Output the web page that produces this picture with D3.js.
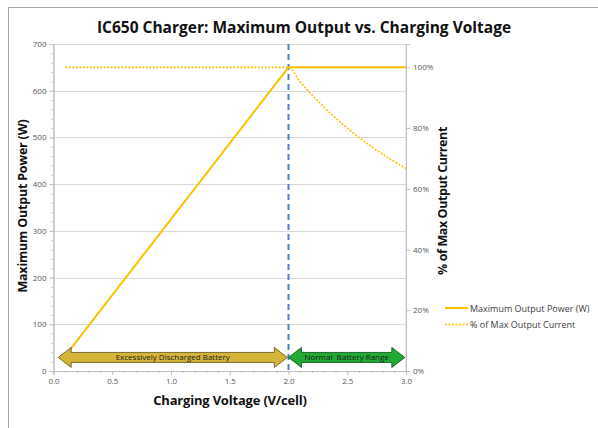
<html lang="en">
<head>
    <meta charset="UTF-8"/>
    <title>IC650 Charger</title>
    <style>
        body { margin: 0; background: #fff; }
        svg { display: block; }
        text { font-family: "Open Sans", sans-serif; }
        .tick text { font-size: 8px; fill: #595959; }
        .bold { font-weight: 700; fill: #111; }
    </style>
</head>
<body>
<svg width="598" height="428"></svg>
<script src="https://d3js.org/d3.v7.min.js"></script>
<script>
    // power curve (V/cell -> W)
    const powerV = [0.1, 2.0, 3.0];
    const powerW = [32.5, 650, 650];

    // % of max output current
    const currentV = [0.1, 2.0, 2.1, 2.2, 2.3, 2.4, 2.5, 2.6, 2.7, 2.8, 2.9, 3.0];
    const currentPct = [100, 100, 95.2, 90.9, 87.0, 83.3, 80.0, 76.9, 74.1, 71.4, 69.0, 66.7];

    const xTicks = [0, 0.5, 1.0, 1.5, 2.0, 2.5, 3.0];
    const yTicks = [0, 100, 200, 300, 400, 500, 600, 700];
    const yRightTicks = [0, 20, 40, 60, 80, 100];

    const ranges = [
        {label: "Excessively Discharged Battery", from: 0.04, to: 1.99, fill: "#d4b53a", stroke: "#5e4f14"},
        {label: "Normal  Battery Range", from: 2.0, to: 2.99, fill: "#22ab34", stroke: "#0b4a12"}
    ];
    const rangeCenterW = 29;
    const switchV = 2.0;

    const legendItems = [
        {label: "Maximum Output Power (W)", dash: null},
        {label: "% of Max Output Current", dash: "2,1.5"}
    ];

    const gold = "#ffc000";

    const svg = d3.select("svg");
    const x = d3.scaleLinear().domain([0, 3]).range([53.5, 406]);
    const y = d3.scaleLinear().domain([0, 700]).range([371, 44]);
    const yR = d3.scaleLinear().domain([0, 700 / 650 * 100]).range([371, 44]);

    // frame
    svg.append("path").attr("d", "M8.5,440 V7.5 H610")
        .attr("fill", "none").attr("stroke", "#a6a6a6");

    // gridlines
    svg.append("g").selectAll("line").data(yTicks.slice(1)).join("line")
        .attr("x1", x(0)).attr("x2", x(3))
        .attr("y1", d => Math.round(y(d)) + 0.5).attr("y2", d => Math.round(y(d)) + 0.5)
        .attr("stroke", "#d9d9d9");
    svg.append("line").attr("x1", x(3)).attr("x2", x(3)).attr("y1", y(700)).attr("y2", y(0))
        .attr("stroke", "#d9d9d9");

    // left axis
    svg.append("g").attr("transform", `translate(${x(0)},0)`)
        .call(d3.axisLeft(y).tickValues(yTicks).tickSize(4).tickPadding(3).tickFormat(d3.format("d")));
    svg.append("g").attr("transform", `translate(${x(0)},0)`)
        .call(d3.axisLeft(y).tickValues(d3.range(0, 701, 20)).tickSize(2).tickFormat(""));

    // bottom axis
    svg.append("g").attr("transform", `translate(0,${y(0)})`)
        .call(d3.axisBottom(x).tickValues(xTicks).tickSize(4).tickPadding(3).tickFormat(d3.format(".1f")));
    svg.append("g").attr("transform", `translate(0,${y(0)})`)
        .call(d3.axisBottom(x).tickValues(d3.range(0, 31).map(i => i / 10)).tickSize(2).tickFormat(""));

    // right axis
    svg.append("g").attr("transform", `translate(${x(3)},0)`)
        .call(d3.axisRight(yR).tickValues(yRightTicks).tickSize(4).tickPadding(3).tickFormat(d => d + "%"));

    svg.selectAll(".domain").attr("stroke", "#bfbfbf");
    svg.selectAll(".tick line").attr("stroke", "#bfbfbf");

    // switch line
    svg.append("line")
        .attr("x1", x(switchV)).attr("x2", x(switchV))
        .attr("y1", y(700)).attr("y2", y(0))
        .attr("stroke", "#4a7ec9").attr("stroke-width", 2).attr("stroke-dasharray", "6,4");

    // current (dotted)
    svg.append("path")
        .datum(currentV.map((v, i) => [v, currentPct[i]]))
        .attr("fill", "none").attr("stroke", gold).attr("stroke-width", 1.6)
        .attr("stroke-dasharray", "2,1.5")
        .attr("d", d3.line().x(d => x(d[0])).y(d => yR(d[1])).curve(d3.curveMonotoneX));

    // power (solid)
    svg.append("path")
        .datum(powerV.map((v, i) => [v, powerW[i]]))
        .attr("fill", "none").attr("stroke", gold).attr("stroke-width", 2)
        .attr("d", d3.line().x(d => x(d[0])).y(d => y(d[1])));

    // range arrows
    const cy = y(rangeCenterW);
    const headLen = 13, headH = 10, shaftH = 5;
    const arrows = svg.append("g").selectAll("g").data(ranges).join("g");
    arrows.append("path")
        .attr("d", d => {
            const a = x(d.from), b = x(d.to);
            return `M${a},${cy} L${a + headLen},${cy - headH} V${cy - shaftH} H${b - headLen} V${cy - headH}`
                + ` L${b},${cy} L${b - headLen},${cy + headH} V${cy + shaftH} H${a + headLen} V${cy + headH} Z`;
        })
        .attr("fill", d => d.fill).attr("stroke", d => d.stroke).attr("stroke-width", 0.8);
    arrows.append("text")
        .attr("x", d => (x(d.from) + x(d.to)) / 2).attr("y", cy + 3)
        .attr("text-anchor", "middle").style("white-space", "pre")
        .attr("font-size", 8).attr("fill", "#1a1a1a")
        .text(d => d.label);

    // title and axis labels
    svg.append("text").attr("class", "bold").attr("x", 304).attr("y", 33)
        .attr("text-anchor", "middle").attr("font-size", 15.5)
        .text("IC650 Charger: Maximum Output vs. Charging Voltage");
    svg.append("text").attr("class", "bold").attr("x", 230).attr("y", 405)
        .attr("text-anchor", "middle").attr("font-size", 13).attr("letter-spacing", -0.2)
        .text("Charging Voltage (V/cell)");
    svg.append("text").attr("class", "bold")
        .attr("transform", "translate(27,206) rotate(-90)")
        .attr("text-anchor", "middle").attr("font-size", 12.5).attr("letter-spacing", -0.2)
        .text("Maximum Output Power (W)");
    svg.append("text").attr("class", "bold")
        .attr("transform", "translate(447,201) rotate(-90)")
        .attr("text-anchor", "middle").attr("font-size", 12.5).attr("letter-spacing", -0.4)
        .text("% of Max Output Current");

    // legend
    const legend = svg.append("g").selectAll("g").data(legendItems).join("g")
        .attr("transform", (d, i) => `translate(445,${308 + i * 16.5})`);
    legend.append("line").attr("x1", 0).attr("x2", 23)
        .attr("stroke", gold).attr("stroke-width", d => d.dash ? 1.6 : 2)
        .attr("stroke-dasharray", d => d.dash);
    legend.append("text").attr("x", 25).attr("y", 3.5)
        .attr("font-size", 9).attr("fill", "#404040")
        .text(d => d.label);
</script>
</body>
</html>
